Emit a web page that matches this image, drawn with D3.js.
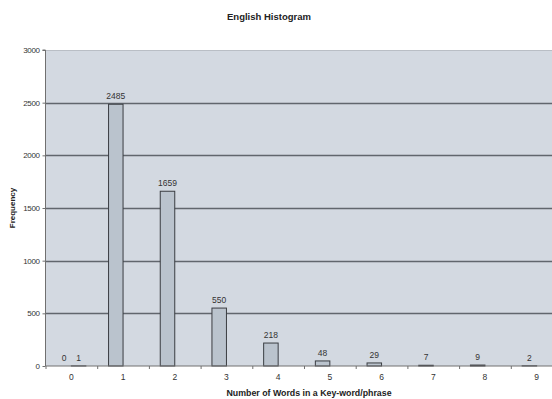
<!DOCTYPE html>
<html>
<head>
<meta charset="utf-8">
<script src="https://cdn.jsdelivr.net/npm/d3@7"></script>
<style>
  html, body { margin: 0; padding: 0; background: #ffffff; }
  svg { display: block; font-family: "Liberation Sans", Arial, sans-serif; }
</style>
</head>
<body>
<svg id="chart" width="552" height="399"></svg>
<script>
// Word-count bins and their frequencies
const categories = ["0", "1", "2", "3", "4", "5", "6", "7", "8", "9"];
const seriesA = [0, 2485, 1659, 550, 218, 48, 29, 7, 9, 2];
const seriesB = [1, null, null, null, null, null, null, null, null, null];
const yTicks = [0, 500, 1000, 1500, 2000, 2500, 3000];

const svg = d3.select("#chart");
const plot = { left: 45.5, top: 50, bottom: 366, bandWidth: 51.7 };
plot.right = plot.left + plot.bandWidth * categories.length;

const x = d3.scaleBand().domain(categories).range([plot.left, plot.right]).paddingInner(0).paddingOuter(0);
const sub = d3.scaleBand().domain(["A", "B"]).range([x.bandwidth() / 2 - 14.5, x.bandwidth() / 2 + 14.5]);
const y = d3.scaleLinear().domain([0, 3000]).range([plot.bottom, plot.top]);

// Plot area background
svg.append("rect")
  .attr("x", plot.left).attr("y", plot.top)
  .attr("width", plot.right - plot.left).attr("height", plot.bottom - plot.top)
  .attr("fill", "#d3d9e1");

// Horizontal gridlines
svg.append("g").selectAll("line")
  .data(yTicks.filter(t => t > 0))
  .join("line")
  .attr("x1", plot.left).attr("x2", plot.right)
  .attr("y1", d => Math.round(y(d)) + 0.5).attr("y2", d => Math.round(y(d)) + 0.5)
  .attr("stroke", d => d === 3000 ? "#b9bec5" : "#61666d")
  .attr("stroke-width", d => d === 3000 ? 1 : 1.3);

// Bars
const rows = categories.map((c, i) => ({ c, A: seriesA[i], B: seriesB[i] }));
const bars = [];
rows.forEach(r => {
  ["A", "B"].forEach(k => { if (r[k] !== null) bars.push({ c: r.c, k, v: r[k] }); });
});

svg.append("g").selectAll("rect")
  .data(bars.filter(d => d.v > 0))
  .join("rect")
  .attr("x", d => x(d.c) + sub(d.k))
  .attr("y", d => y(d.v))
  .attr("width", sub.bandwidth())
  .attr("height", d => y(0) - y(d.v))
  .attr("fill", "#bac3cd")
  .attr("stroke", "#3a3d42")
  .attr("stroke-width", 1);

// Value labels
svg.append("g").selectAll("text")
  .data(bars)
  .join("text")
  .attr("x", d => x(d.c) + sub(d.k) + sub.bandwidth() / 2)
  .attr("y", d => y(d.v) - 5)
  .attr("text-anchor", "middle")
  .attr("font-size", 8.5)
  .attr("fill", "#333")
  .text(d => d.v);

// Y axis
const yAxis = d3.axisLeft(y).tickValues(yTicks).tickFormat(d3.format("d")).tickSize(3).tickPadding(3);
const gy = svg.append("g").attr("transform", `translate(${plot.left},0)`).call(yAxis);
gy.select(".domain").attr("stroke", "#707070").attr("d", `M-3,${plot.top}H0V${plot.bottom}`);
gy.selectAll(".tick line").attr("stroke", "#707070");
gy.selectAll(".tick text").attr("font-size", 8).attr("fill", "#333").attr("font-family", "Liberation Sans, Arial, sans-serif").attr("letter-spacing", -0.4);

// X axis: ticks at bin boundaries
const xAxis = d3.axisBottom(x).tickSize(0).tickPadding(8);
const gx = svg.append("g").attr("transform", `translate(0,${plot.bottom})`).call(xAxis);
gx.select(".domain").attr("stroke", "#707070").attr("d", `M${plot.left},0H${plot.right}`);
gx.selectAll(".tick text").attr("font-size", 8.5).attr("fill", "#333").attr("font-family", "Liberation Sans, Arial, sans-serif");
gx.selectAll(".bound")
  .data(categories)
  .join("line")
  .attr("class", "bound")
  .attr("x1", d => x(d) + 0.5).attr("x2", d => x(d) + 0.5)
  .attr("y1", 0).attr("y2", 3)
  .attr("stroke", "#707070");

// Titles
svg.append("text")
  .attr("x", 269).attr("y", 20)
  .attr("text-anchor", "middle")
  .attr("font-size", 9.5).attr("font-weight", "bold").attr("fill", "#222")
  .text("English Histogram");

svg.append("text")
  .attr("x", 309).attr("y", 396)
  .attr("text-anchor", "middle")
  .attr("font-size", 8.8).attr("font-weight", "bold").attr("fill", "#222")
  .text("Number of Words in a Key-word/phrase");

svg.append("text")
  .attr("transform", "translate(15,208) rotate(-90)")
  .attr("text-anchor", "middle")
  .attr("font-size", 8).attr("font-weight", "bold").attr("fill", "#222")
  .text("Frequency");
</script>
</body>
</html>
